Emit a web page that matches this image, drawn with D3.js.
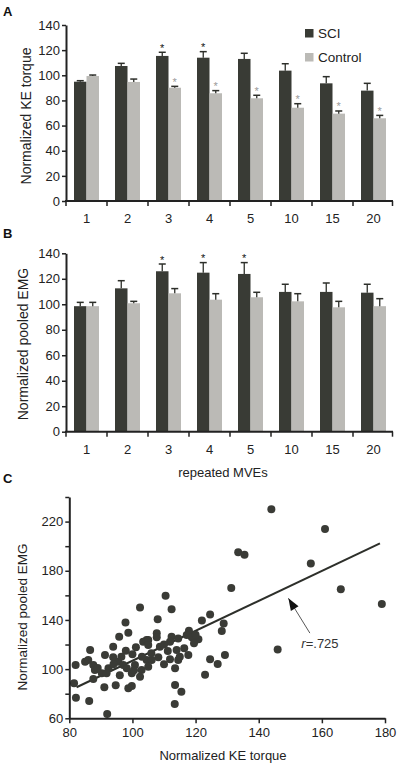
<!DOCTYPE html>
<html>
<head>
<meta charset="utf-8">
<script src="https://cdn.jsdelivr.net/npm/d3@7"></script>
<style>
  html, body { margin: 0; padding: 0; background: #fff; }
  svg { display: block; font-family: "Liberation Sans", Arial, Helvetica, sans-serif; }
</style>
</head>
<body>
<svg id="chart" width="400" height="768"></svg>
<script>
// ---------- DATA ----------
const categories = ["1", "2", "3", "4", "5", "10", "15", "20"];
const seriesNames = ["SCI", "Control"];

const torqueSCI     = [94.9, 107.4, 115.4, 114.0, 113.0, 103.7, 93.6, 87.8];
const torqueSCIErr  = [0.8, 2.1, 2.9, 4.8, 4.5, 5.5, 5.3, 5.8];
const torqueCtl     = [99.4, 94.7, 90.1, 85.7, 81.7, 74.2, 69.5, 65.8];
const torqueCtlErr  = [0.8, 2.3, 1.1, 2.1, 2.4, 3.2, 2.1, 2.3];
const torqueSCISig  = [0, 0, 1, 1, 0, 0, 0, 0];
const torqueCtlSig  = [0, 0, 1, 1, 1, 1, 1, 1];

const emgSCI     = [98.5, 112.5, 125.9, 124.8, 123.8, 109.7, 109.7, 109.1];
const emgSCIErr  = [3.0, 6.0, 5.7, 7.9, 8.9, 6.0, 7.0, 6.6];
const emgCtl     = [98.5, 100.8, 108.6, 103.6, 105.5, 102.3, 97.6, 98.5];
const emgCtlErr  = [3.0, 1.5, 3.7, 4.7, 3.9, 6.0, 4.7, 5.9];
const emgSCISig  = [0, 0, 1, 1, 1, 0, 0, 0];
const emgCtlSig  = [0, 0, 0, 0, 0, 0, 0, 0];

const barTicks = [0, 20, 40, 60, 80, 100, 120, 140];

const scatterTorque = [
  144, 161, 133.5, 135.5, 156.5, 166, 131.3, 179, 146,
  110.5, 102.4, 112.4, 124.6, 122, 108, 97.8, 128.9, 128.3,
  129.3, 127, 124.6, 123, 113.5, 115.5, 113.4, 92, 86.3, 82.1, 82, 81.5,
  98.7, 95.8, 86.6, 93.9, 97.9, 101.1, 103.4, 104.5, 91.3, 93.9, 86, 87.6, 88.1, 92.4,
  95.5, 97.1, 98.2, 100.8, 102.9, 99.8, 90.3, 91.8, 102.4, 104.5, 87.6, 91.1, 94.7, 98.7, 99.8,
  117.9, 117.2, 118.8, 120.9, 107.7, 107.7, 112.4, 114.5, 111.9, 105, 105, 108.7, 111.2,
  114, 116.4, 117.7, 108.2, 111.9, 114.5, 106.1, 105, 113.5,
  96.5, 100, 94, 89, 106, 110, 103, 115, 120, 96, 100.5, 85, 119.5, 110
];
const scatterEMG = [
  230, 214, 195, 193, 186, 165, 166, 153, 116,
  159.7, 150.2, 148.8, 144.5, 139.5, 140.5, 138, 137.2, 131,
  111.5, 104.2, 108, 95.5, 87, 81.5, 71.7, 63.5, 74.1, 76.8, 103.4, 88.5,
  129.6, 126.3, 115.5, 118.2, 115, 117.7, 122.3, 123.7, 111.5, 109.6, 107.4, 103.3, 99.3, 100.7,
  106, 103.3, 100.7, 103.3, 99.3, 96.6, 96.6, 96.6, 93.8, 107.4, 92, 85.2, 86.8, 84.4, 86.3,
  131.2, 127.7, 125.9, 124.2, 129.1, 125.9, 126.3, 125, 122.3, 123.7, 119.6, 118.2, 114.7,
  115.5, 116.9, 111.5, 109.6, 108, 107.4, 107.4, 102, 100.7,
  110, 112, 104, 101, 113, 120, 110, 110, 128, 95, 99, 106, 121, 104
];
const scatterXTicks = [80, 100, 120, 140, 160, 180];
const scatterYTicks = [60, 80, 100, 120, 140, 160, 180, 200, 220, 240];
const scatterYLabels = [60, 100, 140, 180, 220];
const fitSlope = 1.218, fitIntercept = -15.0, fitRange = [82.3, 178.4];
const corrText = "=.725";

// ---------- STYLE ----------
const DARK = "#393b35";
const LIGHT = "#bbbab6";
const AX = "#222";

const svg = d3.select("#chart");

// Shared band scales for bar panels
const x0 = d3.scaleBand().domain(categories).range([66, 394]).paddingInner(0).paddingOuter(0);
const x1 = d3.scaleBand().domain(seriesNames).range([0, x0.bandwidth()]).paddingInner(0).paddingOuter(0.64);

function barPanel(opts) {
  const g = svg.append("g");
  const y = d3.scaleLinear().domain([0, 140]).range([opts.y0, opts.y140]);

  const sets = [
    { name: "SCI", vals: opts.sci, errs: opts.sciErr, sig: opts.sciSig, fill: DARK, star: "#111" },
    { name: "Control", vals: opts.ctl, errs: opts.ctlErr, sig: opts.ctlSig, fill: LIGHT, star: "#999" }
  ];
  sets.forEach(s => {
    const gg = g.append("g");
    const data = categories.map((c, i) => ({ c, v: s.vals[i], e: s.errs[i], sig: s.sig[i] }));
    gg.selectAll("rect").data(data).join("rect")
      .attr("x", d => x0(d.c) + x1(s.name))
      .attr("width", x1.bandwidth())
      .attr("y", d => y(d.v))
      .attr("height", d => y(0) - y(d.v))
      .attr("fill", s.fill);
    gg.selectAll("line.err").data(data).join("line").attr("class", "err")
      .attr("x1", d => x0(d.c) + x1(s.name) + x1.bandwidth() / 2)
      .attr("x2", d => x0(d.c) + x1(s.name) + x1.bandwidth() / 2)
      .attr("y1", d => y(d.v))
      .attr("y2", d => y(d.v + d.e))
      .attr("stroke", "#2d2f2a").attr("stroke-width", 1.3);
    gg.selectAll("line.cap").data(data).join("line").attr("class", "cap")
      .attr("x1", d => x0(d.c) + x1(s.name) + x1.bandwidth() / 2 - 3.5)
      .attr("x2", d => x0(d.c) + x1(s.name) + x1.bandwidth() / 2 + 3.5)
      .attr("y1", d => y(d.v + d.e))
      .attr("y2", d => y(d.v + d.e))
      .attr("stroke", "#2d2f2a").attr("stroke-width", 1.5);
    gg.selectAll("text.star").data(data.filter(d => d.sig)).join("text").attr("class", "star")
      .attr("x", d => x0(d.c) + x1(s.name) + x1.bandwidth() / 2)
      .attr("y", d => y(d.v + d.e) - 0.5)
      .attr("text-anchor", "middle")
      .attr("font-size", 11)
      .attr("fill", s.star)
      .text("*");
  });

  const ya = g.append("g").attr("transform", `translate(66,0)`)
    .call(d3.axisLeft(y).tickValues(barTicks).tickSize(4).tickSizeOuter(0).tickPadding(2));
  ya.select(".domain").attr("stroke", AX).attr("stroke-width", 2);
  ya.selectAll(".tick line").attr("stroke", AX).attr("stroke-width", 1.5);
  ya.selectAll(".tick text").attr("font-size", 13).attr("fill", AX).attr("font-family", "Liberation Sans, Arial, sans-serif");

  const xa = g.append("g").attr("transform", `translate(0,${y(0)})`);
  xa.append("line").attr("x1", 65).attr("x2", x0.range()[1] - 1).attr("stroke", AX).attr("stroke-width", 2);
  const bounds = categories.map(c => x0(c)).concat([x0.range()[1] - 1.5]);
  xa.selectAll("line.bt").data(bounds).join("line").attr("class", "bt")
    .attr("x1", d => d).attr("x2", d => d).attr("y1", 0).attr("y2", 5)
    .attr("stroke", AX).attr("stroke-width", 1.5);
  xa.selectAll("text").data(categories).join("text")
    .attr("x", d => x0(d) + x0.bandwidth() / 2)
    .attr("y", 22)
    .attr("text-anchor", "middle")
    .attr("font-size", 13)
    .attr("fill", AX)
    .text(d => d);

  g.append("text")
    .attr("transform", `translate(${opts.labelX},${opts.labelY}) rotate(-90)`)
    .attr("text-anchor", "middle")
    .attr("font-size", 14)
    .attr("fill", AX)
    .text(opts.ylabel);
  return g;
}

barPanel({
  y0: 201, y140: 25,
  sci: torqueSCI, sciErr: torqueSCIErr, sciSig: torqueSCISig,
  ctl: torqueCtl, ctlErr: torqueCtlErr, ctlSig: torqueCtlSig,
  ylabel: "Normalized KE torque", labelX: 30.5, labelY: 116
});
barPanel({
  y0: 431.7, y140: 253.3,
  sci: emgSCI, sciErr: emgSCIErr, sciSig: emgSCISig,
  ctl: emgCtl, ctlErr: emgCtlErr, ctlSig: emgCtlSig,
  ylabel: "Normalized pooled EMG", labelX: 28, labelY: 344
});

// Legend (panel A)
const legend = svg.append("g");
seriesNames.forEach((s, i) => {
  legend.append("rect").attr("x", 305).attr("y", 29 + i * 24).attr("width", 8.5).attr("height", 8.5)
    .attr("fill", i === 0 ? DARK : LIGHT);
  legend.append("text").attr("x", 318).attr("y", 38 + i * 24).attr("font-size", 13.5).attr("fill", AX).text(s);
});

svg.append("text").attr("x", 223).attr("y", 477).attr("text-anchor", "middle")
  .attr("font-size", 13).attr("fill", AX).text("repeated MVEs");

[["A", 16], ["B", 237.5], ["C", 482.5]].forEach(([t, yy]) => {
  svg.append("text").attr("x", 3).attr("y", yy).attr("font-size", 13).attr("font-weight", "bold")
    .attr("fill", "#111").text(t);
});

// ---------- Scatter panel C ----------
const sx = d3.scaleLinear().domain([80, 180]).range([69.3, 385]);
const sy = d3.scaleLinear().domain([60, 240]).range([718.3, 497]);
const gc = svg.append("g");

const pts = scatterTorque.map((t, i) => ({ x: t, y: scatterEMG[i] }));

gc.append("line")
  .attr("x1", sx(fitRange[0])).attr("y1", sy(fitSlope * fitRange[0] + fitIntercept))
  .attr("x2", sx(fitRange[1])).attr("y2", sy(fitSlope * fitRange[1] + fitIntercept))
  .attr("stroke", "#2d2f2a").attr("stroke-width", 2);

gc.selectAll("circle").data(pts).join("circle")
  .attr("cx", d => sx(d.x)).attr("cy", d => sy(d.y)).attr("r", 4)
  .attr("fill", "#3a3b36");

const cya = gc.append("g").attr("transform", `translate(${sx(80)},0)`)
  .call(d3.axisLeft(sy).tickValues(scatterYTicks).tickSize(4).tickSizeOuter(0).tickPadding(2)
    .tickFormat(d => scatterYLabels.includes(d) ? d : ""));
cya.select(".domain").attr("stroke", AX).attr("stroke-width", 2);
cya.selectAll(".tick line").attr("stroke", AX).attr("stroke-width", 1.5);
cya.selectAll(".tick text").attr("font-size", 13).attr("fill", AX).attr("font-family", "Liberation Sans, Arial, sans-serif");

const cxa = gc.append("g").attr("transform", `translate(0,${sy(60)})`)
  .call(d3.axisBottom(sx).tickValues(scatterXTicks).tickSize(5).tickSizeOuter(0).tickPadding(4));
cxa.select(".domain").attr("stroke", AX).attr("stroke-width", 2);
cxa.selectAll(".tick line").attr("stroke", AX).attr("stroke-width", 1.5);
cxa.selectAll(".tick text").attr("font-size", 13).attr("fill", AX).attr("font-family", "Liberation Sans, Arial, sans-serif");

gc.append("text").attr("x", 223).attr("y", 760).attr("text-anchor", "middle")
  .attr("font-size", 13).attr("fill", AX).text("Normalized KE torque");
gc.append("text")
  .attr("transform", `translate(27,617) rotate(-90)`)
  .attr("text-anchor", "middle").attr("font-size", 13.5).attr("fill", AX)
  .text("Normalized pooled EMG");

const tip = [sx(149.4), sy(157.6)];
const tail = [sx(156.2), sy(129.3)];
gc.append("line").attr("x1", tail[0]).attr("y1", tail[1]).attr("x2", tip[0]).attr("y2", tip[1])
  .attr("stroke", "#444").attr("stroke-width", 0.9);
const ang = Math.atan2(tip[1] - tail[1], tip[0] - tail[0]);
const hl = 12, hw = 4.5;
const bx = tip[0] - hl * Math.cos(ang), by = tip[1] - hl * Math.sin(ang);
gc.append("path")
  .attr("d", `M${tip[0]},${tip[1]} L${bx + hw * Math.sin(ang)},${by - hw * Math.cos(ang)} L${bx - hw * Math.sin(ang)},${by + hw * Math.cos(ang)} Z`)
  .attr("fill", "#111");
const rt = gc.append("text").attr("x", sx(153.5)).attr("y", sy(117.5)).attr("font-size", 13).attr("fill", "#333");
rt.append("tspan").attr("font-style", "italic").text("r");
rt.append("tspan").text(corrText);
</script>
</body>
</html>
